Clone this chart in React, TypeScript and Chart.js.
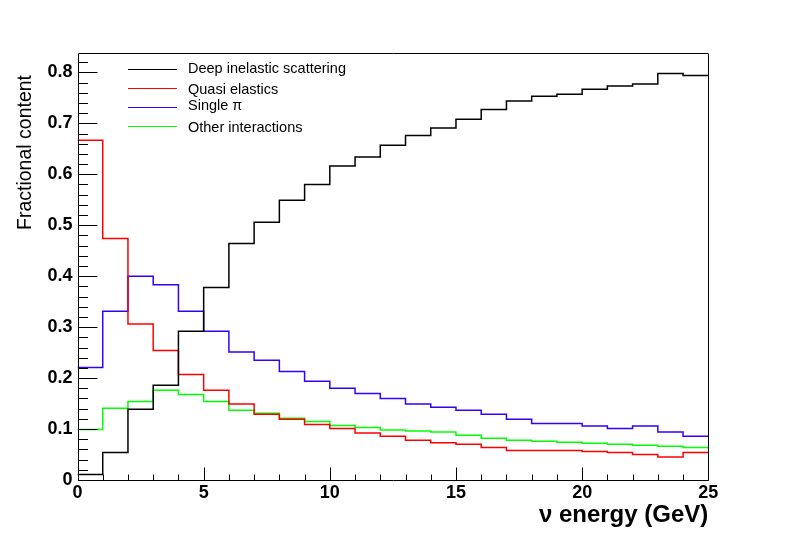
import { useEffect, useRef } from "react";
import { Chart, registerables } from "chart.js";

Chart.register(...registerables);

// ---- data ----
const energyBinLowEdges = [0, 1, 2, 3, 4, 5, 6, 7, 8, 9, 10, 11, 12, 13, 14, 15, 16, 17, 18, 19, 20, 21, 22, 23, 24];
const energyUpperEdge = 25;

const deepInelastic = [0.011, 0.054, 0.139, 0.186, 0.292, 0.378, 0.464, 0.506, 0.549, 0.580, 0.616, 0.634, 0.657, 0.676, 0.691, 0.708, 0.727, 0.744, 0.753, 0.757, 0.767, 0.773, 0.777, 0.798, 0.794];
const quasiElastic = [0.667, 0.474, 0.306, 0.254, 0.207, 0.176, 0.149, 0.129, 0.119, 0.109, 0.101, 0.092, 0.086, 0.078, 0.073, 0.070, 0.064, 0.058, 0.058, 0.058, 0.056, 0.054, 0.050, 0.045, 0.054];
const singlePi = [0.221, 0.331, 0.400, 0.383, 0.331, 0.292, 0.251, 0.235, 0.213, 0.194, 0.180, 0.170, 0.160, 0.149, 0.143, 0.137, 0.129, 0.119, 0.111, 0.111, 0.106, 0.101, 0.106, 0.094, 0.086];
const otherInteractions = [0.099, 0.141, 0.154, 0.176, 0.168, 0.154, 0.137, 0.131, 0.121, 0.115, 0.107, 0.103, 0.098, 0.096, 0.094, 0.088, 0.082, 0.078, 0.076, 0.074, 0.072, 0.070, 0.068, 0.066, 0.064];

const seriesLabels = ["Deep inelastic scattering", "Quasi elastics", "Single \u03c0", "Other interactions"];
const seriesColors = ["#000000", "#ff0000", "#3300ff", "#00ff00"];

const xTickValues = [0, 5, 10, 15, 20, 25];
const xTickLabels = ["0", "5", "10", "15", "20", "25"];
const yTickValues = [0, 0.1, 0.2, 0.3, 0.4, 0.5, 0.6, 0.7, 0.8];
const yTickLabels = ["0", "0.1", "0.2", "0.3", "0.4", "0.5", "0.6", "0.7", "0.8"];
const yAxisMax = 0.8374;

const xTitle = "\u03bd energy (GeV)";
const yTitle = "Fractional content";

function toSteps(values: number[]) {
  const pts = energyBinLowEdges.map((x, i) => ({ x, y: values[i] }));
  pts.push({ x: energyUpperEdge, y: values[values.length - 1] });
  return pts;
}

const rootPlugin = {
  id: "rootStyle",
  afterDraw(chart: any) {
    const ctx: CanvasRenderingContext2D = chart.ctx;
    const area = chart.chartArea;
    const xs = chart.scales.x;
    const ys = chart.scales.y;
    ctx.save();
    ctx.strokeStyle = "#000";
    ctx.lineWidth = 1;
    const L = Math.round(area.left) + 0.5;
    const R = Math.round(area.right) + 0.5;
    const T = Math.round(area.top) + 0.5;
    const B = Math.round(area.bottom) + 0.5;
    ctx.beginPath();
    ctx.rect(L, T, R - L, B - T);
    ctx.stroke();

    // y ticks (inward, major every 0.1, minor every 0.02)
    ctx.beginPath();
    const yStep = 0.02;
    for (let k = 0; k * yStep <= ys.max + 1e-9; k++) {
      const v = k * yStep;
      const major = k % 5 === 0;
      const py = Math.round(ys.getPixelForValue(v)) + 0.5;
      const len = major ? 19 : 9.5;
      ctx.moveTo(L, py);
      ctx.lineTo(L + len, py);
    }
    // x ticks (inward, major every 5, minor every 1)
    for (let k = 0; k <= xs.max + 1e-9; k++) {
      const major = k % 5 === 0;
      const px = Math.round(xs.getPixelForValue(k)) + 0.5;
      const len = major ? 13 : 6;
      ctx.moveTo(px, B);
      ctx.lineTo(px, B - len);
    }
    ctx.stroke();

    // axis titles
    ctx.fillStyle = "#000";
    ctx.font = "bold 24px 'Liberation Sans', Arial, sans-serif";
    ctx.textAlign = "right";
    ctx.textBaseline = "alphabetic";
    ctx.fillText(xTitle, area.right, 522);

    ctx.save();
    ctx.translate(30.5, 75);
    ctx.rotate(-Math.PI / 2);
    ctx.font = "19.5px 'Liberation Sans', Arial, sans-serif";
    ctx.textAlign = "right";
    ctx.fillText(yTitle, 0, 0);
    ctx.restore();

    // legend
    const lineY = [68.5, 87.5, 106.5, 125.5];
    const textY = [73.3, 94.3, 110, 131.5];
    ctx.font = "14.5px 'Liberation Sans', Arial, sans-serif";
    ctx.textAlign = "left";
    chart.data.datasets.forEach((ds: any, i: number) => {
      ctx.strokeStyle = ds.borderColor;
      ctx.lineWidth = 1;
      ctx.beginPath();
      ctx.moveTo(128, Math.round(lineY[i]) + 0.5);
      ctx.lineTo(177, Math.round(lineY[i]) + 0.5);
      ctx.stroke();
      ctx.fillStyle = "#000";
      ctx.fillText(ds.label, 188, textY[i]);
    });
    ctx.restore();
  },
};

export default function App() {
  const ref = useRef<HTMLCanvasElement | null>(null);
  useEffect(() => {
    if (!ref.current) return;
    const all = [deepInelastic, quasiElastic, singlePi, otherInteractions];
    const chart = new Chart(ref.current, {
      type: "line",
      data: {
        datasets: all.map((vals, i) => ({
          label: seriesLabels[i],
          data: toSteps(vals),
          borderColor: seriesColors[i],
          backgroundColor: seriesColors[i],
          borderWidth: 1.5,
          pointRadius: 0,
          stepped: "before" as const,
          fill: false,
        })),
      },
      options: {
        responsive: false,
        animation: false,
        devicePixelRatio: 1,
        layout: { padding: { left: 0, right: 79.7, top: 53.3, bottom: 0 } },
        plugins: { legend: { display: false }, tooltip: { enabled: false } },
        scales: {
          x: {
            type: "linear",
            min: 0,
            max: energyUpperEdge,
            grid: { display: false, drawTicks: false },
            border: { display: false },
            ticks: {
              color: "#000",
              font: { family: "'Liberation Sans', Arial, sans-serif", size: 18, weight: "bold", lineHeight: 1 },
              padding: 4,
              maxRotation: 0,
              autoSkip: false,
              callback: (v: any) => {
                const idx = xTickValues.indexOf(Number(v));
                return idx >= 0 ? xTickLabels[idx] : "";
              },
            },
            afterBuildTicks: (s: any) => {
              s.ticks = xTickValues.map((v) => ({ value: v }));
            },
            afterFit: (s: any) => {
              s.height = 53;
            },
          },
          y: {
            type: "linear",
            min: 0,
            max: yAxisMax,
            grid: { display: false, drawTicks: false },
            border: { display: false },
            ticks: {
              color: "#000",
              font: { family: "'Liberation Sans', Arial, sans-serif", size: 18, weight: "bold", lineHeight: 1 },
              padding: 5,
              autoSkip: false,
              callback: (v: any) => {
                const idx = yTickValues.findIndex((t) => Math.abs(t - Number(v)) < 1e-6);
                return idx >= 0 ? yTickLabels[idx] : "";
              },
            },
            afterBuildTicks: (s: any) => {
              s.ticks = yTickValues.map((v) => ({ value: v }));
            },
            afterFit: (s: any) => {
              s.width = 77.5;
            },
          },
        },
      },
      plugins: [rootPlugin],
    });
    return () => chart.destroy();
  }, []);
  return (
    <div style={{ position: "absolute", left: 0, top: 0, width: 788, height: 533, background: "#fff" }}>
      <canvas ref={ref} width={788} height={533} style={{ width: 788, height: 533, display: "block" }} />
    </div>
  );
}
